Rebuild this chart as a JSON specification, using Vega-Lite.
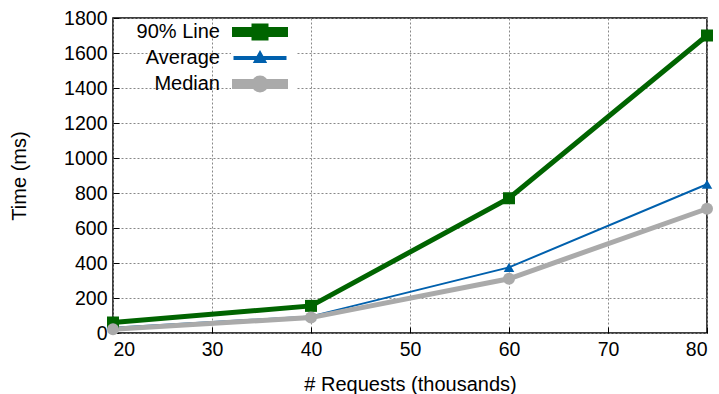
{
  "$schema": "https://vega.github.io/schema/vega-lite/v6.json",
  "width": 594,
  "height": 315,
  "autosize": "none",
  "padding": {"left": 113, "top": 18, "right": 12, "bottom": 61},
  "background": "white",
  "config": {
    "font": "Liberation Sans",
    "view": {"stroke": "black", "strokeWidth": 1.5},
    "axis": {
      "labelFont": "Liberation Sans",
      "labelFontSize": 19.5,
      "labelColor": "black",
      "titleFont": "Liberation Sans",
      "titleFontSize": 20,
      "titleFontWeight": "normal",
      "titleColor": "black",
      "tickColor": "black",
      "tickSize": -6,
      "domain": false,
      "gridColor": "#888888",
      "gridDash": [2, 2],
      "gridWidth": 1
    }
  },
  "data": {
    "values": [
      {"series": "90% Line", "req": 20, "time": 60},
      {"series": "90% Line", "req": 40, "time": 155},
      {"series": "90% Line", "req": 60, "time": 770},
      {"series": "90% Line", "req": 80, "time": 1700},
      {"series": "Average", "req": 20, "time": 30},
      {"series": "Average", "req": 40, "time": 95},
      {"series": "Average", "req": 60, "time": 375},
      {"series": "Average", "req": 80, "time": 850},
      {"series": "Median", "req": 20, "time": 22},
      {"series": "Median", "req": 40, "time": 88},
      {"series": "Median", "req": 60, "time": 310},
      {"series": "Median", "req": 80, "time": 710}
    ]
  },
  "encoding": {
    "x": {
      "field": "req", "type": "quantitative",
      "scale": {"domain": [20, 80], "nice": false, "zero": false},
      "axis": {"title": "# Requests (thousands)", "values": [20, 30, 40, 50, 60, 70, 80], "labelPadding": 13, "titlePadding": 16}
    },
    "y": {
      "field": "time", "type": "quantitative",
      "scale": {"domain": [0, 1800], "nice": false},
      "axis": {"title": "Time (ms)", "format": "d", "values": [0, 200, 400, 600, 800, 1000, 1200, 1400, 1600, 1800], "labelPadding": 12, "titlePadding": 34}
    }
  },
  "layer": [
    {
      "mark": {"type": "line"},
      "encoding": {
        "strokeWidth": {
          "field": "series", "type": "nominal",
          "scale": {"type": "ordinal", "domain": ["90% Line", "Average", "Median"], "range": [5, 2, 5]},
          "legend": null
        },
        "color": {
          "field": "series", "type": "nominal",
          "scale": {"domain": ["90% Line", "Average", "Median"], "range": ["#006400", "#0060ad", "#aaaaaa"]},
          "legend": {
            "orient": "none",
            "legendX": 118,
            "legendY": 4,
            "title": null,
            "padding": 0,
            "fillColor": "white",
            "labelAlign": "right",
            "labelOffset": -50,
            "symbolOffset": 19,
            "labelFont": "Liberation Sans",
            "labelFontSize": 20,
            "labelColor": "black",
            "labelLimit": 0,
            "symbolSize": 4,
            "rowPadding": 0,
            "encode": {
              "symbols": {
                "update": {
                  "shape": {"signal": "datum.label == '90% Line' ? 'M-25.5,-2.5H25.5V2.5H-25.5Z M-6,-6H6V6H-6Z' : datum.label == 'Average' ? 'M-25.5,-1H25.5V1H-25.5Z M0,-6L5.5,4H-5.5Z' : 'M-25.5,-2.5H25.5V2.5H-25.5Z M-6,0a6,6 0 1,0 12,0a6,6 0 1,0 -12,0Z'"},
                  "fill": {"scale": "color", "field": "value"},
                  "fillOpacity": {"value": 1},
                  "strokeWidth": {"value": 0}
                }
              }
            }
          }
        }
      }
    },
    {
      "transform": [{"filter": "datum.series == '90% Line'"}],
      "mark": {"type": "point", "filled": true, "opacity": 1, "shape": "square", "size": 144, "color": "#006400"}
    },
    {
      "transform": [{"filter": "datum.series == 'Average'"}],
      "mark": {"type": "point", "filled": true, "opacity": 1, "shape": "triangle-up", "size": 110, "color": "#0060ad"}
    },
    {
      "transform": [{"filter": "datum.series == 'Median'"}],
      "mark": {"type": "point", "filled": true, "opacity": 1, "shape": "circle", "size": 144, "color": "#aaaaaa"}
    }
  ]
}
